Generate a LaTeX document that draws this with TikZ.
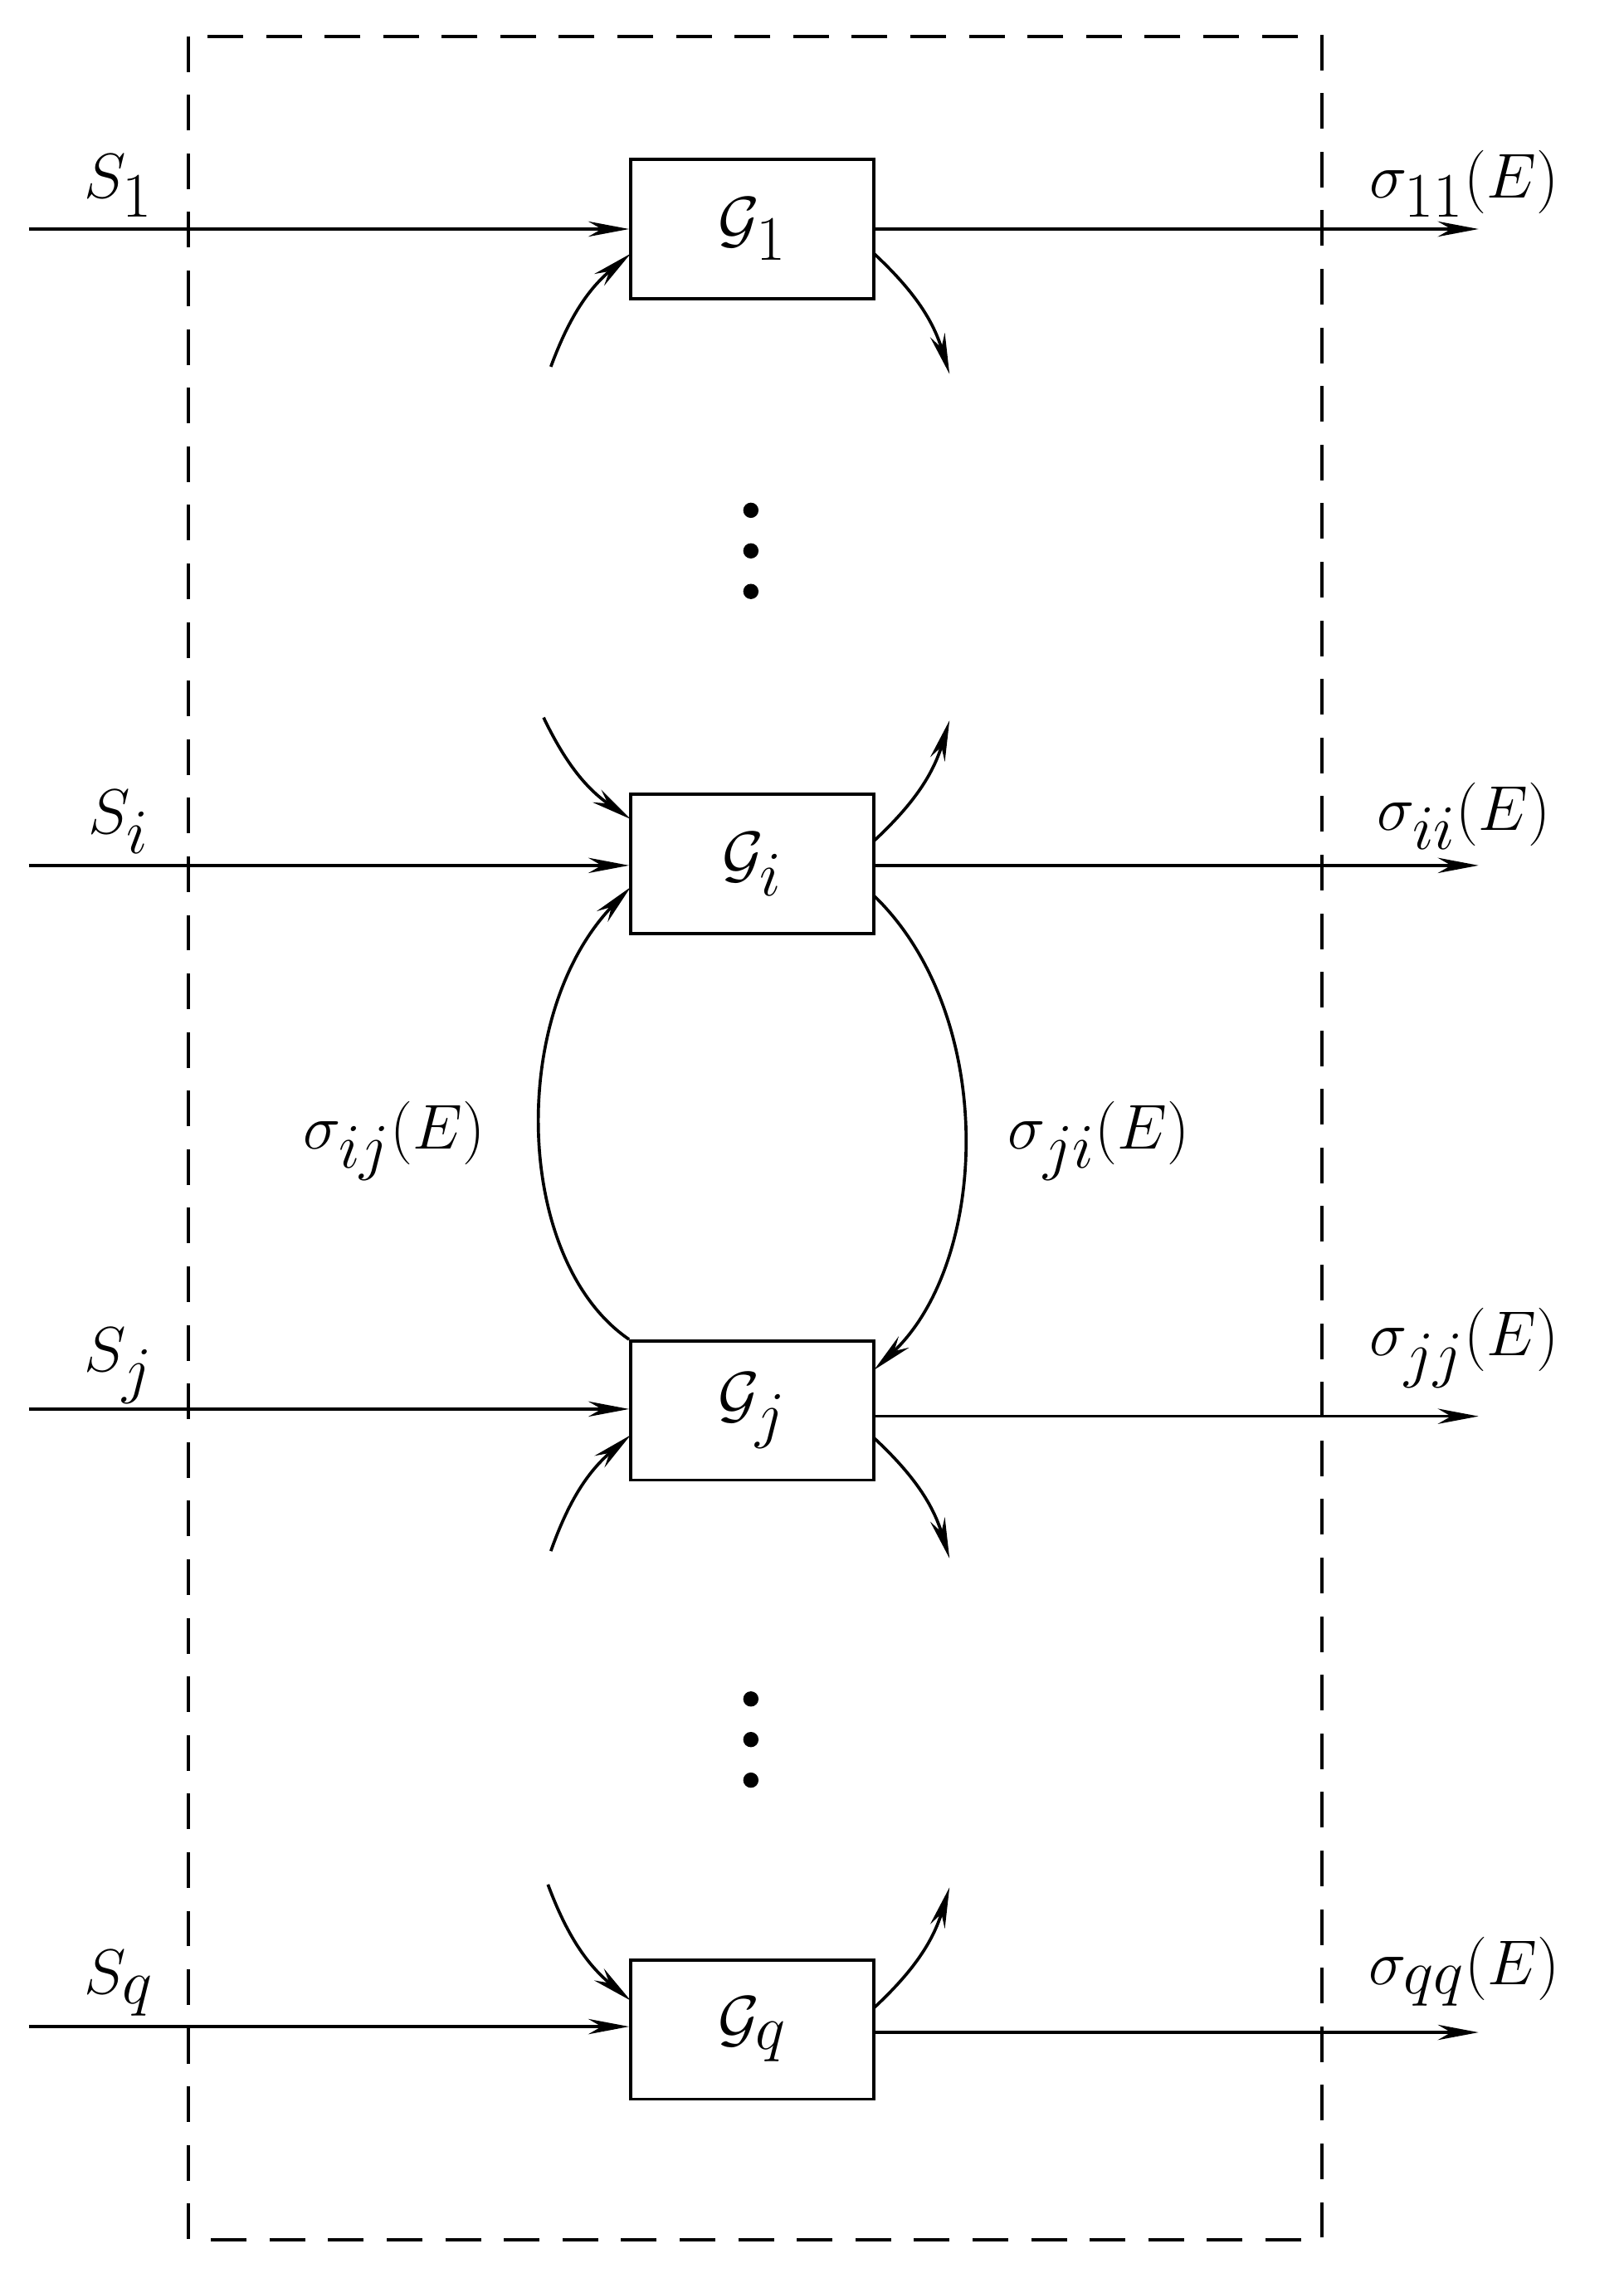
\documentclass[tikz,border=0pt]{standalone}
\usetikzlibrary{arrows.meta}
\begin{document}
\begin{tikzpicture}[x=0.02cm,y=-0.02cm,
  gbox/.style={draw,line width=1.2pt,minimum width=3.36cm,minimum height=1.92cm,inner sep=0,font=\fontsize{46}{52}\selectfont},
  arr/.style={line width=1.2pt,-{Stealth[length=16pt,width=6pt]}},
  lab/.style={font=\fontsize{36}{42}\selectfont},
  slab/.style={font=\fontsize{50}{56}\selectfont}]
\useasboundingbox (0,0) rectangle (1120,1568);
\draw[dashed,line width=1.2pt,dash pattern=on 14pt off 9pt] (130,25) rectangle (912,1545);
\node[gbox] (g1) at (519,158) {$\mathcal{G}_1$};
\node[gbox] (gi) at (519,596) {$\mathcal{G}_i$};
\node[gbox] (gj) at (519,973) {$\mathcal{G}_j$};
\node[gbox] (gq) at (519,1400) {$\mathcal{G}_q$};
% inputs
\foreach \n/\y/\s in {g1/158/1,gi/597/i,gj/972/j,gq/1398/q}{
  \coordinate (in\n) at (20,\y);
  \draw[arr] (in\n) -- (\n.west |- in\n);
  \node[slab] at (82,128+\y-158) {$S_{\s}$};
}
% outputs
\foreach \n/\y/\s/\ly in {g1/158/11/127,gi/597/ii/563,gj/977/jj/930,gq/1402/qq/1360}{
  \coordinate (out\n) at (1020,\y);
  \draw[arr] (\n.east |- out\n) -- (out\n);
  \node[lab] at (1010,\ly) {$\sigma_{\s}(E)$};
}
% small curved arrows
\coordinate (a1) at (380,253); \coordinate (b1) at (655,258);
\draw[arr] (a1) to[bend left=15] (435,175);
\draw[arr] (603,175) to[bend left=15] (b1);
\coordinate (a2) at (375,495); \coordinate (b2) at (655,497);
\draw[arr] (a2) to[bend right=15] (435,565);
\draw[arr] (603,580) to[bend right=15] (b2);
\coordinate (a3) at (380,1070); \coordinate (b3) at (655,1075);
\draw[arr] (a3) to[bend left=15] (435,990);
\draw[arr] (603,992) to[bend left=15] (b3);
\coordinate (a4) at (378,1300); \coordinate (b4) at (655,1302);
\draw[arr] (a4) to[bend right=15] (435,1380);
\draw[arr] (603,1385) to[bend right=15] (b4);
% big arcs
\draw[arr] (gj.north west) .. controls (355,870) and (350,700) .. (435,612);
\draw[arr] (603,618) .. controls (688,700) and (683,870) .. (603,945);
\node[lab] at (272,787) {$\sigma_{ij}(E)$};
\node[lab] at (758,787) {$\sigma_{ji}(E)$};
% dots
\foreach \y in {352,380,408,1172,1200,1228} \fill (518,\y) circle (3pt);
\end{tikzpicture}
\end{document}
